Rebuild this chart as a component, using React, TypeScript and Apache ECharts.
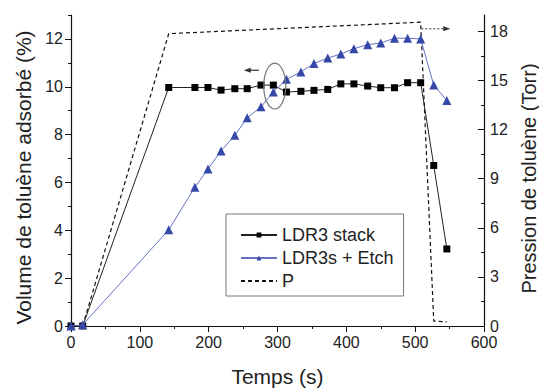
import React, { useEffect, useRef } from "react";
import * as echarts from "echarts";

// Time (s) of each measurement
const times = [0, 17, 142, 180, 199, 218, 238, 256, 276, 294, 313, 334, 353, 373, 392, 411, 431, 450, 470, 489, 508, 527, 546];
// LDR3 stack (%)
const stackVol = [0, 0, 9.97, 9.97, 9.97, 9.86, 9.92, 9.92, 10.07, 10.07, 9.78, 9.81, 9.85, 9.89, 10.12, 10.12, 10.03, 9.96, 9.96, 10.17, 10.17, 6.71, 3.22];
// LDR3s + Etch (%)
const etchVol = [0, 0.05, 4.02, 5.8, 6.56, 7.32, 7.97, 8.7, 9.16, 9.78, 10.31, 10.62, 10.97, 11.2, 11.37, 11.59, 11.76, 11.83, 12.03, 12.03, 12.0, 10.07, 9.43];
// Toluene pressure P (Torr)
const pTimes = [17, 142, 508, 527, 546];
const pTorr = [0, 17.86, 18.56, 0.3, 0.25];

const xTicks = [0, 100, 200, 300, 400, 500, 600];
const leftTicks = [0, 2, 4, 6, 8, 10, 12];
const leftMinor = [1, 3, 5, 7, 9, 11, 13];
const rightTicks = [0, 3, 6, 9, 12, 15, 18];
const rightMinor = [1.5, 4.5, 7.5, 10.5, 13.5, 16.5];

// annotation anchors in data units
const leftArrowFrom = [273, 10.69];
const leftArrowTo = [251, 10.69];
const ellipseCenter = [296, 10.03];
const ellipseHalf = [16, 0.96];
const rightArrowFrom = [509, 18.16];
const rightArrowTo = [551, 18.16];

const FONT = "Liberation Sans, Arial, sans-serif";

export default function App() {
  const ref = useRef<HTMLDivElement>(null);
  useEffect(() => {
    if (!ref.current) return;
    const chart = echarts.init(ref.current, undefined, { renderer: "svg" });
    const axisLine = { show: true, lineStyle: { color: "#111", width: 1.2 } };
    chart.setOption({
      animation: false,
      backgroundColor: "#fff",
      textStyle: { fontFamily: FONT },
      grid: { left: 71, right: 55, top: 15, bottom: 63, containLabel: false, outerBoundsMode: "none" },
      legend: {
        orient: "vertical",
        left: 226,
        top: 214,
        backgroundColor: "#fff",
        borderColor: "#777",
        borderWidth: 1,
        borderRadius: 0,
        padding: [11, 10, 5, 14],
        itemWidth: 36,
        itemHeight: 6,
        itemGap: 3,
        textStyle: { fontSize: 18, color: "#222", fontFamily: FONT, lineHeight: 20 },
        data: [
          { name: "LDR3 stack" },
          { name: "LDR3s + Etch" },
          { name: "P", itemStyle: { opacity: 0 } },
        ],
      },
      xAxis: {
        type: "value",
        min: 0,
        max: 600,
        interval: 100,
        name: "Temps (s)",
        nameLocation: "middle",
        nameGap: 40,
        nameTextStyle: { fontSize: 21, color: "#222", fontFamily: FONT },
        axisLine,
        axisTick: { show: true, inside: false, length: 6, lineStyle: { color: "#111" }, customValues: xTicks },
        minorTick: { show: true, splitNumber: 2, length: 3, lineStyle: { color: "#111" } },
        axisLabel: { fontSize: 16, color: "#222", margin: 8, customValues: xTicks },
        splitLine: { show: false },
      },
      yAxis: [
        {
          type: "value",
          position: "left",
          min: 0,
          max: 13,
          interval: 1,
          name: "Volume de toluène adsorbé (%)",
          nameLocation: "middle",
          nameGap: 37,
          nameTextStyle: { fontSize: 21, color: "#222", fontFamily: FONT, padding: [0, 14, 0, 0] },
          axisLine,
          axisTick: { show: true, inside: false, length: 6, lineStyle: { color: "#111" }, customValues: leftTicks },
          axisLabel: { fontSize: 16, color: "#222", margin: 8, customValues: leftTicks },
          splitLine: { show: false },
        },
        {
          type: "value",
          position: "right",
          min: 0,
          max: 19,
          interval: 1,
          name: "Pression de toluène (Torr)",
          nameLocation: "middle",
          nameGap: 27,
          nameTextStyle: { fontSize: 20, color: "#222", fontFamily: FONT, padding: [0, 16, 0, 0] },
          axisLine,
          axisTick: { show: true, inside: true, length: 6, lineStyle: { color: "#111" }, customValues: rightTicks },
          axisLabel: { fontSize: 16, color: "#222", margin: 6, customValues: rightTicks },
          splitLine: { show: false },
        },
        {
          type: "value",
          position: "left",
          min: 0,
          max: 13,
          interval: 1,
          axisLine: { show: false },
          axisTick: { show: true, inside: false, length: 3, lineStyle: { color: "#111" }, customValues: leftMinor },
          axisLabel: { show: false },
          splitLine: { show: false },
        },
        {
          type: "value",
          position: "right",
          min: 0,
          max: 19,
          interval: 1,
          axisLine: { show: false },
          axisTick: { show: true, inside: true, length: 3, lineStyle: { color: "#111" }, customValues: rightMinor },
          axisLabel: { show: false },
          splitLine: { show: false },
        },
      ],
      series: [
        {
          name: "P",
          type: "line",
          yAxisIndex: 1,
          data: pTimes.map((t, i) => [t, pTorr[i]]),
          symbol: "none",
          lineStyle: { color: "#111", width: 1.2, type: [4, 3] },
          itemStyle: { color: "#111" },
          z: 2,
        },
        {
          name: "LDR3 stack",
          type: "line",
          yAxisIndex: 0,
          data: times.map((t, i) => [t, stackVol[i]]),
          symbol: "rect",
          symbolSize: 7,
          lineStyle: { color: "#222", width: 1 },
          itemStyle: { color: "#000" },
          z: 3,
        },
        {
          name: "LDR3s + Etch",
          type: "line",
          yAxisIndex: 0,
          data: times.map((t, i) => [t, etchVol[i]]),
          symbol: "triangle",
          symbolSize: 9,
          lineStyle: { color: "#6572c4", width: 1 },
          itemStyle: { color: "#3548a8" },
          z: 4,
        },
      ],
    });

    const px = (p: number[], yi: number) => chart.convertToPixel({ xAxisIndex: 0, yAxisIndex: yi }, p) as number[];
    const la = px(leftArrowFrom, 0);
    const lb = px(leftArrowTo, 0);
    const ec = px(ellipseCenter, 0);
    const ee = px([ellipseCenter[0] + ellipseHalf[0], ellipseCenter[1] + ellipseHalf[1]], 0);
    const ra = px(rightArrowFrom, 1);
    const rb = px(rightArrowTo, 1);
    chart.setOption({
      graphic: [
        { type: "line", shape: { x1: la[0], y1: la[1], x2: lb[0] + 6, y2: lb[1] }, style: { stroke: "#333", lineWidth: 1.2 }, z: 10 },
        { type: "polygon", shape: { points: [[lb[0], lb[1]], [lb[0] + 7, lb[1] - 2.5], [lb[0] + 7, lb[1] + 2.5]] }, style: { fill: "#333" }, z: 10 },
        { type: "ellipse", shape: { cx: ec[0], cy: ec[1], rx: Math.abs(ee[0] - ec[0]), ry: Math.abs(ee[1] - ec[1]) }, style: { fill: "none", stroke: "#777", lineWidth: 1.2 }, z: 10 },
        { type: "line", shape: { x1: ra[0], y1: ra[1], x2: rb[0] - 6, y2: rb[1] }, style: { stroke: "#333", lineWidth: 1, lineDash: [2, 2] }, z: 10 },
        { type: "polygon", shape: { points: [[rb[0], rb[1]], [rb[0] - 7, rb[1] - 2.5], [rb[0] - 7, rb[1] + 2.5]] }, style: { fill: "#333" }, z: 10 },
      ],
    });
    return () => chart.dispose();
  }, []);
  return <div ref={ref} style={{ position: "absolute", left: 0, top: 0, width: 539, height: 389 }} />;
}
